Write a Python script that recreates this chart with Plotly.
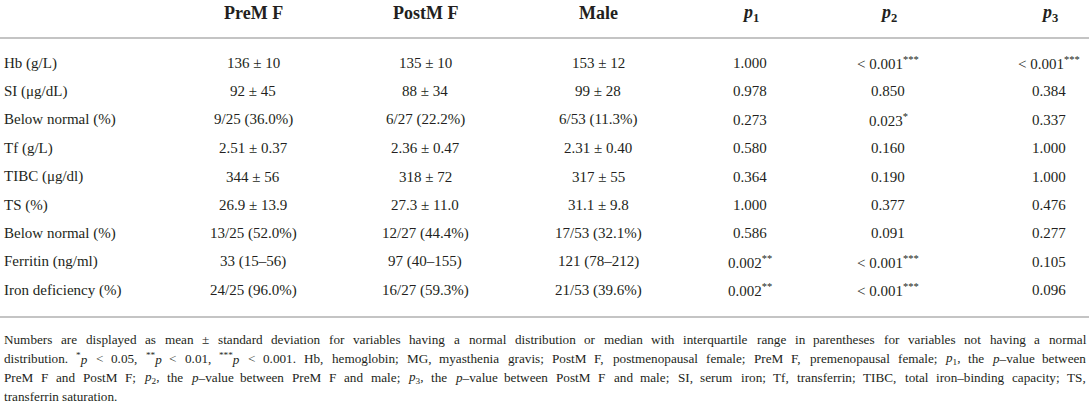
import re
import plotly.graph_objects as go

W, H = 1089, 403

headers = ["PreM F", "PostM F", "Male", "<i>p</i><sub>1</sub>", "<i>p</i><sub>2</sub>", "<i>p</i><sub>3</sub>"]
row_labels = ["Hb (g/L)", "SI (μg/dL)", "Below normal (%)", "Tf (g/L)", "TIBC (μg/dl)",
              "TS (%)", "Below normal (%)", "Ferritin (ng/ml)", "Iron deficiency (%)"]
prem_f = ["136 ± 10", "92 ± 45", "9/25 (36.0%)", "2.51 ± 0.37", "344 ± 56",
          "26.9 ± 13.9", "13/25 (52.0%)", "33 (15–56)", "24/25 (96.0%)"]
postm_f = ["135 ± 10", "88 ± 34", "6/27 (22.2%)", "2.36 ± 0.47", "318 ± 72",
           "27.3 ± 11.0", "12/27 (44.4%)", "97 (40–155)", "16/27 (59.3%)"]
male = ["153 ± 12", "99 ± 28", "6/53 (11.3%)", "2.31 ± 0.40", "317 ± 55",
        "31.1 ± 9.8", "17/53 (32.1%)", "121 (78–212)", "21/53 (39.6%)"]
p1 = ["1.000", "0.978", "0.273", "0.580", "0.364", "1.000", "0.586",
      "0.002<sup>**</sup>", "0.002<sup>**</sup>"]
p2 = ["&lt; 0.001<sup>***</sup>", "0.850", "0.023<sup>*</sup>", "0.160", "0.190", "0.377", "0.091",
      "&lt; 0.001<sup>***</sup>", "&lt; 0.001<sup>***</sup>"]
p3 = ["&lt; 0.001<sup>***</sup>", "0.384", "0.337", "1.000", "1.000", "0.476", "0.277",
      "0.105", "0.096"]
footnote_lines = [
    "Numbers are displayed as mean ± standard deviation for variables having a normal distribution or median with interquartile range in parentheses for variables not having a normal",
    "distribution. <sup>*</sup><i>p</i> &lt; 0.05, <sup>**</sup><i>p</i> &lt; 0.01, <sup>***</sup><i>p</i> &lt; 0.001. Hb, hemoglobin; MG, myasthenia gravis; PostM F, postmenopausal female; PreM F, premenopausal female; <i>p</i><sub>1</sub>, the <i>p</i>–value between",
    "PreM F and PostM F; <i>p</i><sub>2</sub>, the <i>p</i>–value between PreM F and male; <i>p</i><sub>3</sub>, the <i>p</i>–value between PostM F and male; SI, serum iron; Tf, transferrin; TIBC, total iron–binding capacity; TS,",
    "transferrin saturation.",
]

# layout (pixel coordinates)
col_x = [253, 425, 598, 750, 888, 1049]
label_x = 3
header_y = 13
row_y0, row_step = 63, 28.4
rule_y = [38, 317]
foot_y0, foot_step = 339, 19.0
foot_right = 1085
FOOT_SIZE = 13.2

FONT = "Liberation Serif, Times New Roman, serif"
TXT = "#231f20"

# Times / Liberation Serif advance widths (1/1000 em) used to justify the footnote
_w = dict(zip("abcdefghijklmnopqrstuvwxyz",
              [444, 500, 444, 500, 444, 333, 500, 500, 278, 278, 500, 278, 778, 500, 500, 500, 500, 333, 389,
               278, 500, 500, 722, 500, 500, 444]))
_w.update(zip("ABCDEFGHIJKLMNOPQRSTUVWXYZ",
              [722, 667, 667, 722, 611, 556, 722, 722, 333, 389, 722, 611, 889, 722, 722, 556, 722, 667, 556,
               611, 722, 722, 944, 722, 722, 611]))
_w.update({c: 500 for c in "0123456789"})
_w.update({" ": 250, ".": 250, ",": 250, ";": 278, ":": 278, "(": 333, ")": 333, "–": 500,
           "±": 564, "<": 564, "*": 500, "%": 833, "/": 278, "-": 333})


def text_width(s, size):
    s = s.replace("&lt;", "<")
    total, small = 0.0, False
    for part in re.split(r"(</?\w+>)", s):
        if part and re.fullmatch(r"</?\w+>", part):
            if part in ("<sup>", "<sub>"):
                small = True
            elif part in ("</sup>", "</sub>"):
                small = False
            continue
        for ch in part:
            total += _w.get(ch, 500) * (0.7 if small else 1.0)
    return total * size / 1000.0


fig = go.Figure()
fig.add_trace(go.Scatter(x=[0, W], y=[0, H], mode="markers", marker=dict(opacity=0),
                         hoverinfo="skip", showlegend=False))

ann = []
for cx, h in zip(col_x, headers):
    ann.append(dict(x=cx, y=header_y, text=f"<b>{h}</b>", xanchor="center", yanchor="middle",
                    font=dict(family=FONT, size=18, color=TXT), showarrow=False))

cols = [prem_f, postm_f, male, p1, p2, p3]
for i, lab in enumerate(row_labels):
    y = row_y0 + i * row_step
    ann.append(dict(x=label_x, y=y, text=lab, xanchor="left", yanchor="middle", borderpad=0,
                    font=dict(family=FONT, size=15, color=TXT), showarrow=False))
    for cx, col in zip(col_x, cols):
        ann.append(dict(x=cx, y=y, text=col[i], xanchor="center", yanchor="middle",
                        font=dict(family=FONT, size=15, color=TXT), showarrow=False))

# justified footnote (last line left aligned)
for j, line in enumerate(footnote_lines):
    y = foot_y0 + j * foot_step
    words = line.split(" ")
    widths = [text_width(wd, FOOT_SIZE) for wd in words]
    if j < len(footnote_lines) - 1 and len(words) > 1:
        gap = (foot_right - label_x - sum(widths)) / (len(words) - 1)
    else:
        gap = 250 * FOOT_SIZE / 1000.0
    x = label_x
    for wd, ww in zip(words, widths):
        ann.append(dict(x=x, y=y, text=wd, xanchor="left", yanchor="middle", borderpad=0,
                        font=dict(family=FONT, size=FOOT_SIZE, color=TXT), showarrow=False))
        x += ww + gap

shapes = [dict(type="line", x0=0, x1=W, y0=ry, y1=ry, xref="x", yref="y",
               line=dict(color="#c4c4c4", width=1.8)) for ry in rule_y]

fig.update_layout(
    width=W, height=H, margin=dict(l=0, r=0, t=0, b=0),
    paper_bgcolor="white", plot_bgcolor="white",
    xaxis=dict(range=[0, W], visible=False, fixedrange=True),
    yaxis=dict(range=[H, 0], visible=False, fixedrange=True),
    annotations=ann, shapes=shapes,
)
fig.write_html("out.html", config={"displayModeBar": False, "staticPlot": True},
               post_script="document.body.style.margin='0';document.body.style.overflow='hidden';")
